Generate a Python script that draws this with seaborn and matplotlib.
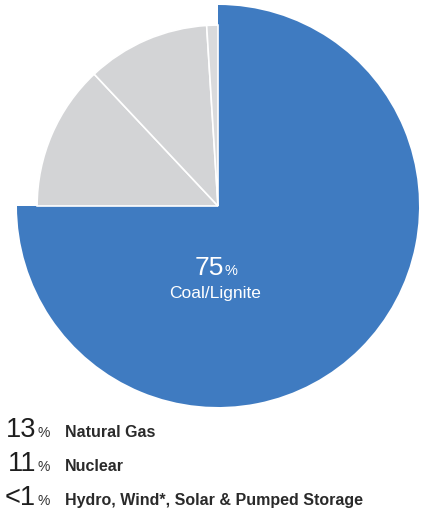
import matplotlib
matplotlib.use("Agg")
import matplotlib.pyplot as plt
import seaborn as sns

# data
sources = ["Coal/Lignite", "Natural Gas", "Nuclear", "Hydro, Wind*, Solar & Pumped Storage"]
shares = [75, 13, 11, 1]
share_labels = ["75", "13", "11", "<1"]
colors = ["#3f7bc1", "#d3d4d6", "#d3d4d6", "#d9dadc"]

sns.set_theme(style="white")
plt.rcParams['font.family'] = ['Liberation Sans', 'DejaVu Sans']

W, H = 425, 519
fig = plt.figure(figsize=(W / 100, H / 100), dpi=100)

# pie axes: center at (218, 206) px from top, blue radius ~201 px
cx, cy, r = 218, 206, 201
ax = fig.add_axes([(cx - r) / W, (H - cy - r) / H, 2 * r / W, 2 * r / H])
wedges, _ = ax.pie(shares, colors=colors, startangle=90, counterclock=False,
                   radius=0.9, wedgeprops=dict(edgecolor="white", linewidth=1.2))
wedges[0].set_radius(1.0)
wedges[0].set_edgecolor("none")
ax.set_xlim(-1, 1)
ax.set_ylim(-1, 1)
ax.set_aspect("equal")
ax.axis("off")

def fx(x):
    return x / W

def fy(y):
    return 1 - y / H

# label inside the blue slice
fig.text(fx(224), fy(275), share_labels[0], color="white", fontsize=19,
         ha="right", va="baseline")
fig.text(fx(224), fy(275), "%", color="white", fontsize=10.5, ha="left", va="baseline")
fig.text(fx(215), fy(298), sources[0], color="white", fontsize=12.5,
         ha="center", va="baseline")

# legend-like lines at the bottom
baselines = [437, 471, 505]
for i, yb in enumerate(baselines):
    fig.text(fx(36), fy(yb), share_labels[i + 1], color="#1e1e1e", fontsize=19.5,
             ha="right", va="baseline")
    fig.text(fx(37), fy(yb), "%", color="#333333", fontsize=10,
             ha="left", va="baseline")
    fig.text(fx(65), fy(yb), sources[i + 1], color="#2a2a2a", fontsize=11.5,
             fontweight="bold", ha="left", va="baseline")

fig.savefig("out.png", dpi=100, facecolor="white")
